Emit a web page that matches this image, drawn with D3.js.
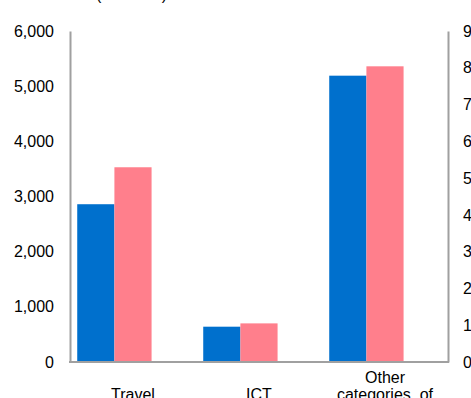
<!DOCTYPE html>
<html>
<head>
<meta charset="utf-8">
<script src="https://cdn.jsdelivr.net/npm/d3@7/dist/d3.min.js"></script>
<style>
  html, body { margin: 0; padding: 0; background: #fff; }
  svg { display: block; font-family: "Liberation Sans", Arial, sans-serif; }
</style>
</head>
<body>
<svg id="chart" width="471" height="398"></svg>
<script>
// Service categories and the two series plotted for each
const categories = ["Travel", "ICT", "Other categories of services"];
const categoryLines = [["Travel"], ["ICT"], ["Other", "categories  of", "services"]];
const seriesNames = ["A", "B"];
const seriesA = [2860, 640, 5190];
const seriesB = [3530, 700, 5360];
const leftTicks = [0, 1000, 2000, 3000, 4000, 5000, 6000];
const rightTicks = [0, 10, 20, 30, 40, 50, 60, 70, 80, 90];
const unitLabel = "(USD mn)";
const colors = ["#0070CD", "#FF7F8C"];

const svg = d3.select("#chart");
const margin = { left: 70, right: 23, top: 31, bottom: 36 };
const W = 471, H = 398;
const x0 = margin.left, x1 = W - margin.right;
const yTop = margin.top, yBot = H - margin.bottom;
const fontSize = 16;

const y = d3.scaleLinear().domain([0, 6000]).range([yBot, yTop]);
const yR = d3.scaleLinear().domain([0, 90]).range([yBot, yTop]);

// category positions for the bar groups
const xBars = d3.scaleBand().domain(categories).range([x0, x1])
  .paddingInner(0.41).paddingOuter(0.205).align(0.14);
const xSeries = d3.scaleBand().domain(seriesNames).range([0, xBars.bandwidth()]);
// category positions for the axis labels
const xLabels = d3.scaleBand().domain(categories).range([x0, x1]);

const rows = categories.map((c, i) => ({ cat: c, vals: [seriesA[i], seriesB[i]] }));

// bars
const groups = svg.append("g").selectAll("g").data(rows).join("g")
  .attr("transform", d => `translate(${xBars(d.cat)},0)`);
groups.selectAll("rect")
  .data(d => d.vals.map((v, j) => ({ key: seriesNames[j], v, j })))
  .join("rect")
  .attr("x", d => xSeries(d.key))
  .attr("width", xSeries.bandwidth())
  .attr("y", d => y(d.v))
  .attr("height", d => y(0) - y(d.v))
  .attr("fill", d => colors[d.j]);

// axes
const axisColor = "#A0A0A0";
const leftAxis = svg.append("g").attr("transform", `translate(${x0},0)`)
  .call(d3.axisLeft(y).tickValues(leftTicks).tickSize(0).tickPadding(16)
    .tickFormat(d3.format(",")));
const rightAxis = svg.append("g").attr("transform", `translate(${x1},0)`)
  .call(d3.axisRight(yR).tickValues(rightTicks).tickSize(0).tickPadding(15));
[leftAxis, rightAxis].forEach(a => {
  a.select(".domain").attr("stroke", axisColor).attr("stroke-width", 2);
  a.selectAll("text").attr("font-size", fontSize).attr("fill", "#000")
    .attr("font-family", "Liberation Sans, Arial, sans-serif");
});
svg.append("line")
  .attr("x1", x0 - 1).attr("x2", x1 + 1)
  .attr("y1", yBot).attr("y2", yBot)
  .attr("stroke", axisColor).attr("stroke-width", 2);

// category labels, vertically centred on the middle line
const lineH = 17;
const labelMid = yBot + 38;
categoryLines.forEach((lines, i) => {
  const cx = xLabels(categories[i]) + xLabels.bandwidth() / 2;
  const start = labelMid - (lines.length - 1) / 2 * lineH;
  const t = svg.append("text").attr("text-anchor", "middle")
    .attr("font-size", fontSize).attr("fill", "#000")
    .style("white-space", "pre");
  lines.forEach((ln, k) => {
    t.append("tspan").attr("x", cx).attr("y", start + k * lineH).text(ln);
  });
});

// unit label along the top edge
svg.append("text").attr("x", 96).attr("y", 0)
  .attr("font-size", fontSize).attr("fill", "#000").text(unitLabel);
</script>
</body>
</html>
